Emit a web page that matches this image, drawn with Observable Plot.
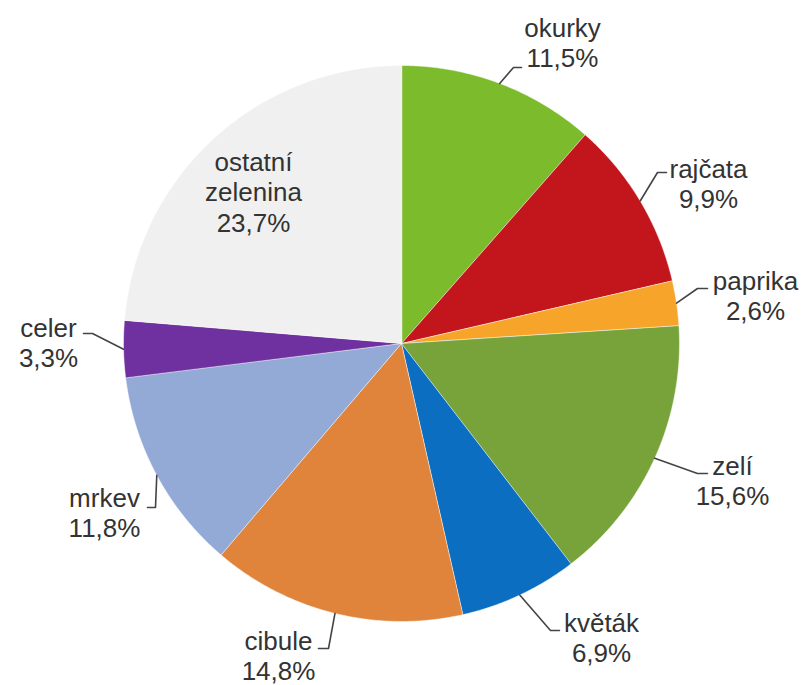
<!DOCTYPE html>
<html>
<head>
<meta charset="utf-8">
<script src="https://cdn.jsdelivr.net/npm/d3@7"></script>
<script src="https://cdn.jsdelivr.net/npm/@observablehq/plot@0.6"></script>
<style>
  html, body { margin: 0; padding: 0; background: #fff; }
  #chart { width: 805px; height: 685px; }
</style>
</head>
<body>
<div id="chart"></div>
<script>
// ---- data ----
const categories = ["okurky", "rajčata", "paprika", "zelí", "květák", "cibule", "mrkev", "celer", "ostatní zelenina"];
const shares = [11.5, 9.9, 2.6, 15.6, 6.9, 14.8, 11.8, 3.3, 23.7];
const labelNames = ["okurky", "rajčata", "paprika", "zelí", "květák", "cibule", "mrkev", "celer", "ostatní\nzelenina"];
const colors = ["#7cbb2c", "#c3161c", "#f7a42a", "#77a33a", "#0b6ec0", "#e0843c", "#94aad6", "#7031a0", "#f0f0f0"];

// ---- layout (pixel positions of labels and leader elbows) ----
const pieCenter = [401, 343];
const pieRadius = 278;
const labelLayout = [
  {tx: 562, ty: 42,  elbow: [513, 67],  end: [521, 67]},
  {tx: 708, ty: 183, elbow: [657, 172], end: [666, 172]},
  {tx: 755, ty: 295, elbow: [697, 288], end: [707, 288]},
  {tx: 732, ty: 480, elbow: [697, 473], end: [707, 473]},
  {tx: 601, ty: 637, elbow: [550, 630], end: [559, 630]},
  {tx: 278, ty: 655, elbow: [328, 648], end: [318, 648]},
  {tx: 104, ty: 512, elbow: [155, 507], end: [147, 507]},
  {tx: 48,  ty: 342, elbow: [92, 333],  end: [83, 333]},
  {tx: 253, ty: 191, elbow: null, end: null}
];

const [cx, cy] = pieCenter;
const r = pieRadius;
const arcs = d3.pie().sort(null).value(d => d)(shares);
const pt = (a, rad) => [cx + rad * Math.sin(a), cy - rad * Math.cos(a)];

const slicePts = [];
arcs.forEach((a, i) => {
  slicePts.push({k: i, x: cx, y: cy, color: colors[i]});
  const n = Math.max(2, Math.ceil((a.endAngle - a.startAngle) / (Math.PI / 360)));
  for (let j = 0; j <= n; j++) {
    const ang = a.startAngle + (a.endAngle - a.startAngle) * j / n;
    const [x, y] = pt(ang, r);
    slicePts.push({k: i, x, y, color: colors[i]});
  }
});

const leaderPts = [];
arcs.forEach((a, i) => {
  const L = labelLayout[i];
  if (!L.elbow) return;
  const mid = (a.startAngle + a.endAngle) / 2;
  const [sx, sy] = pt(mid, r);
  leaderPts.push({k: i, x: sx, y: sy});
  leaderPts.push({k: i, x: L.elbow[0], y: L.elbow[1]});
  leaderPts.push({k: i, x: L.end[0], y: L.end[1]});
});

const fmt = v => v.toFixed(1).replace(".", ",") + "%";
const labels = categories.map((c, i) => ({
  text: labelNames[i] + "\n" + fmt(shares[i]),
  x: labelLayout[i].tx,
  y: labelLayout[i].ty
}));

const chart = Plot.plot({
  width: 805,
  height: 685,
  margin: 0,
  x: {domain: [0, 805], range: [0, 805], axis: null},
  y: {domain: [0, 685], range: [0, 685], axis: null},
  color: {type: "identity"},
  style: {background: "#fff", fontFamily: "'Liberation Sans', Arial, sans-serif"},
  marks: [
    Plot.line(slicePts, {x: "x", y: "y", z: "k", fill: "color", stroke: "#fff", strokeWidth: 0.5, curve: "linear-closed"}),
    Plot.line(leaderPts, {x: "x", y: "y", z: "k", stroke: "#444", strokeWidth: 1.6}),
    Plot.text(labels, {x: "x", y: "y", text: "text", fontSize: 26, lineHeight: 1.17, fill: "#333", textAnchor: "middle"})
  ]
});
document.getElementById("chart").appendChild(chart);
</script>
</body>
</html>
